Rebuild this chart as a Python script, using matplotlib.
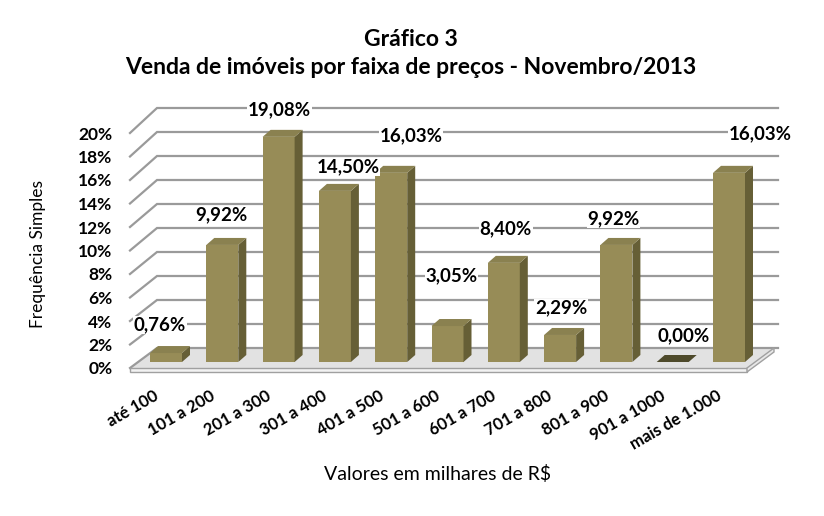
import matplotlib
matplotlib.use('Agg')
import matplotlib.pyplot as plt
from matplotlib.patches import Polygon

# ---------------- data ----------------
categories = ['até 100', '101 a 200', '201 a 300', '301 a 400', '401 a 500',
              '501 a 600', '601 a 700', '701 a 800', '801 a 900', '901 a 1000',
              'mais de 1.000']
values = [0.76, 9.92, 19.08, 14.50, 16.03, 3.05, 8.40, 2.29, 9.92, 0.00, 16.03]
value_labels = ['0,76%', '9,92%', '19,08%', '14,50%', '16,03%', '3,05%',
                '8,40%', '2,29%', '9,92%', '0,00%', '16,03%']
yticks = [0, 2, 4, 6, 8, 10, 12, 14, 16, 18, 20]
ytick_labels = ['0%', '2%', '4%', '6%', '8%', '10%', '12%', '14%', '16%', '18%', '20%']

title_line1 = 'Gráfico 3'
title_line2 = 'Venda de imóveis por faixa de preços - Novembro/2013'
xlabel = 'Valores em milhares de R$'
ylabel = 'Frequência Simples'

# ---------------- layout / style ----------------
FONT = ['Lato', 'DejaVu Sans']
plt.rcParams['font.family'] = FONT

W, H = 824, 516
fig = plt.figure(figsize=(W / 100, H / 100), dpi=100)
fig.patch.set_facecolor('white')

L, R, T, B = 120, 800, 95, 380          # axes box in pixels
X0, SX = 166, 56.3                       # pixel of category 0, pixels per category
Y0, SY = 362, 11.8                       # pixel of 0 %, pixels per 1 %
PX, PY = 1 / SX, 1 / SY

ax = fig.add_axes([L / W, 1 - B / H, (R - L) / W, (B - T) / H])
ax.set_xlim((L - X0) / SX, (R - X0) / SX)
ax.set_ylim((Y0 - B) / SY, (Y0 - T) / SY)
for s in ax.spines.values():
    s.set_visible(False)
ax.set_facecolor('none')

# 3D geometry (pixels, relative to bar plane)
front_shift = (-8, 6)     # front plane vs bar plane
back_shift = (19, -14)    # back wall vs bar plane
front_scale, back_scale = 11.75 / 11.8, 12.0 / 11.8
x_front_left = (130 - X0) * PX
x_back_left = (157 - X0) * PX
x_back_right = (778 - X0) * PX
x_front_right = (747 - X0) * PX
x_floor_back_right = (774 - X0) * PX


def yf(v):
    return v * front_scale - front_shift[1] * PY


def yb(v):
    return v * back_scale - back_shift[1] * PY


grid_color = '#9a9a9a'
# floor
floor_top = Polygon([(x_front_left, yf(0)), (x_front_right, yf(0)),
                     (x_floor_back_right, yb(0)), (x_back_left, yb(0))],
                    closed=True, facecolor='#e2e2e2', edgecolor='none', zorder=1)
ax.add_patch(floor_top)
slab = 4 * PY
floor_front = Polygon([(x_front_left, yf(0)), (x_front_right, yf(0)),
                       (x_front_right, yf(0) - slab), (x_front_left, yf(0) - slab)],
                      closed=True, facecolor='#f2f2f2', edgecolor='#a0a0a0', lw=1.0, zorder=1.5)
ax.add_patch(floor_front)
floor_side = Polygon([(x_front_right, yf(0)), (x_floor_back_right, yb(0)),
                      (x_floor_back_right, yb(0) - slab), (x_front_right, yf(0) - slab)],
                     closed=True, facecolor='#e8e8e8', edgecolor='#a0a0a0', lw=1.0, zorder=1.5)
ax.add_patch(floor_side)

# gridlines (left wall diagonals + back wall)
for v in yticks:
    ax.plot([x_front_left, x_back_left, x_back_right], [yf(v), yb(v), yb(v)],
            color=grid_color, lw=1.6, zorder=1.2, solid_joinstyle='miter')

# bars
bw = 32 * PX
dx, dy = 8 * PX, 7 * PY
c_front, c_side, c_top, c_top_zero = '#978c57', '#665f36', '#8a8150', '#4e4a2b'
xs = list(range(len(values)))
ax.bar(xs, values, width=bw, color=c_front, edgecolor='none', zorder=3)
for i, v in zip(xs, values):
    r = i + bw / 2
    l = i - bw / 2
    side = Polygon([(r, 0), (r + dx, dy), (r + dx, v + dy), (r, v)], closed=True,
                   facecolor=c_side, edgecolor='none', zorder=3)
    top = Polygon([(l, v), (r, v), (r + dx, v + dy), (l + dx, v + dy)], closed=True,
                  facecolor=c_top if v > 0 else c_top_zero, edgecolor='none', zorder=3)
    ax.add_patch(side)
    ax.add_patch(top)

# data labels (pixel offsets from the bar top)
label_dx = [-6, -1, 1, 13, 20, 4, 2, 1, -3, 11, 31]
label_dy = [28, 30, 27, 24, 37, 50, 34, 27, 26, 26, 39]
for i, v, t, ox, oy in zip(xs, values, value_labels, label_dx, label_dy):
    ax.text(i + ox * PX, v + oy * PY, t, ha='center', va='center',
            fontsize=13.5, fontweight='bold', color='black', zorder=5,
            bbox=dict(facecolor='white', edgecolor='none', pad=0.5))

# y ticks (front plane)
ax.set_yticks([yf(v) for v in yticks])
ax.set_yticklabels(ytick_labels, fontsize=12.5, fontweight='bold')
ax.tick_params(axis='y', length=0, pad=5.5)

# x ticks
ax.set_xticks([i - 9 * PX for i in xs])
ax.set_xticklabels(categories, rotation=30, ha='right', va='center',
                   rotation_mode='anchor', fontsize=12, fontweight='bold')
ax.tick_params(axis='x', length=0, pad=10.5)

# titles and axis labels
fig.text(411 / W, 1 - 40 / H, title_line1, ha='center', va='center',
         fontsize=16.5, fontweight='bold')
fig.text(411 / W, 1 - 67 / H, title_line2, ha='center', va='center',
         fontsize=16.5, fontweight='bold')
fig.text(438 / W, 1 - 474 / H, xlabel, ha='center', va='center', fontsize=14)
fig.text(38 / W, 1 - 254 / H, ylabel, ha='center', va='center', rotation=90,
         fontsize=12.5)

fig.savefig('out.png', dpi=100, facecolor='white')
